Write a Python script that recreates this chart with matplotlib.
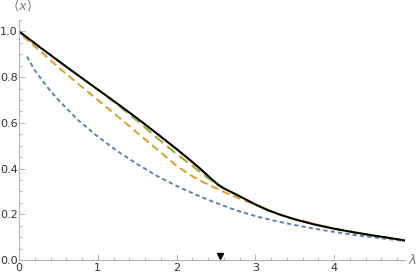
import matplotlib
matplotlib.use('Agg')
import matplotlib.pyplot as plt
from matplotlib.ticker import MultipleLocator

# 读取自图片的数据
lam_black = [0, 0.25, 0.5, 0.75, 1.0, 1.25, 1.5, 1.75, 2.0, 2.15, 2.3, 2.42, 2.52, 2.58, 2.65,
             2.75, 2.85, 3.0, 3.15, 3.3, 3.5, 3.75, 4.0, 4.25, 4.5, 4.75, 4.9]
x_black = [1.0, 0.935, 0.871, 0.808, 0.746, 0.684, 0.62, 0.554, 0.486, 0.444, 0.4, 0.362, 0.332,
           0.318, 0.305, 0.288, 0.27, 0.243, 0.219, 0.2, 0.178, 0.155, 0.137, 0.121, 0.107,
           0.094, 0.085]

lam_red = [0, 0.5, 1.0, 1.5, 2.0, 2.15, 2.3, 2.42, 2.52, 2.58, 2.65, 2.75, 2.85, 3.0, 3.15, 3.3,
           3.5, 4.0, 4.5, 4.9]
x_red = [1.0, 0.871, 0.746, 0.619, 0.483, 0.44, 0.396, 0.358, 0.329, 0.316, 0.304, 0.288, 0.27,
         0.243, 0.219, 0.2, 0.178, 0.137, 0.107, 0.085]

lam_green = [0, 0.5, 1.0, 1.25, 1.5, 1.75, 2.0, 2.2, 2.4, 2.55, 2.65, 2.75, 2.85, 3.0, 3.3, 3.5,
             4.0, 4.5, 4.9]
x_green = [1.0, 0.871, 0.745, 0.68, 0.61, 0.535, 0.464, 0.412, 0.358, 0.322, 0.303, 0.287, 0.27,
           0.243, 0.2, 0.178, 0.137, 0.107, 0.085]

lam_orange = [0.05, 0.1, 0.3, 0.5, 0.75, 1.0, 1.25, 1.5, 1.75, 2.0, 2.15, 2.3, 2.45, 2.6, 2.75,
              2.9, 3.0, 3.15, 3.3, 3.5, 4.0, 4.5, 4.9]
x_orange = [0.978, 0.965, 0.905, 0.843, 0.771, 0.70, 0.629, 0.557, 0.485, 0.412, 0.377, 0.347,
            0.322, 0.298, 0.276, 0.255, 0.243, 0.22, 0.2, 0.178, 0.137, 0.107, 0.085]

lam_blue = [0.1, 0.2, 0.35, 0.5, 0.75, 1.0, 1.25, 1.5, 1.75, 2.0, 2.25, 2.5, 2.75, 3.0, 3.25, 3.5,
            3.75, 4.0, 4.25, 4.5, 4.75, 4.9]
x_blue = [0.89, 0.83, 0.76, 0.70, 0.612, 0.54, 0.476, 0.42, 0.368, 0.324, 0.285, 0.25, 0.218,
          0.192, 0.171, 0.153, 0.137, 0.123, 0.11, 0.099, 0.089, 0.083]

lam_mark = [2.55]

blue = '#5E81B5'
orange = '#E19C24'
green = '#8FB032'
red = '#EB6235'
axis_gray = '#b3b3b3'
text_gray = '#333333'

fig = plt.figure(figsize=(4.2, 2.77), dpi=100)
ax = fig.add_axes([19 / 420, 17 / 277, 386 / 420, 240 / 277])

ax.plot(lam_blue, x_blue, color=blue, lw=1.4, dashes=(2.2, 1.6))
ax.plot(lam_orange, x_orange, color=orange, lw=1.4, dashes=(4.0, 2.2))
ax.plot(lam_red, x_red, color=red, lw=1.1)
ax.plot(lam_green, x_green, color=green, lw=1.5, dashes=(5.0, 2.5))
ax.plot(lam_black, x_black, color='black', lw=1.4)
ax.plot(lam_mark, [0.018], marker='v', color='black', ms=5, ls='none', clip_on=False)

ax.set_xlim(0, 4.9)
ax.set_ylim(0, 1.05)

for s in ['top', 'right']:
    ax.spines[s].set_visible(False)
for s in ['left', 'bottom']:
    ax.spines[s].set_color(axis_gray)
    ax.spines[s].set_linewidth(0.8)

ax.xaxis.set_major_locator(MultipleLocator(1))
ax.xaxis.set_minor_locator(MultipleLocator(0.2))
ax.yaxis.set_minor_locator(MultipleLocator(0.05))
ax.set_yticks([0.0, 0.2, 0.4, 0.6, 0.8, 1.0])
ax.set_yticklabels(['0.0', '0.2', '0.4', '0.6', '0.8', '1.0'])
ax.tick_params(which='both', direction='in', color=axis_gray, width=0.7,
               labelsize=8, labelcolor=text_gray)
ax.tick_params(which='major', length=4)
ax.tick_params(which='minor', length=2)
ax.tick_params(axis='y', which='major', pad=1)
ax.tick_params(axis='x', which='major', pad=2.5)

ax.text(-0.07, 1.075, r'$\langle x \rangle$', transform=ax.transData, ha='left', va='bottom',
        fontsize=9.5, color='#808080')
ax.text(1.007, 0.0, r'$\lambda$', transform=ax.transAxes, ha='left', va='center',
        fontsize=9.5, color='#808080')

plt.savefig('out.png', dpi=100)
plt.close()
